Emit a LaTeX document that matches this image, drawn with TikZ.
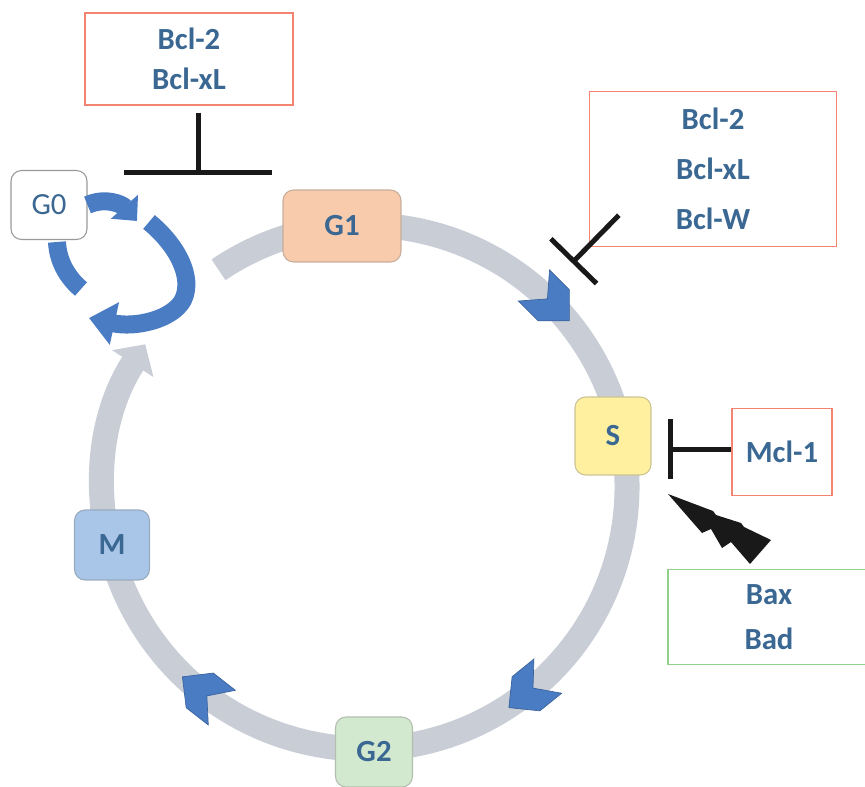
\documentclass[tikz,border=0pt]{standalone}
\usepackage{fontspec}
\setmainfont{Carlito}
\usepackage{xcolor}
\usetikzlibrary{arrows.meta}

\definecolor{ringgray}{HTML}{C8CDD6}
\definecolor{cycleblue}{HTML}{4A7CC4}
\definecolor{labelblue}{HTML}{3A6893}
\definecolor{boxred}{HTML}{F28471}
\definecolor{boxgreen}{HTML}{90D28A}
\definecolor{gonefill}{HTML}{F8CBAD}
\definecolor{sfill}{HTML}{FFF0A0}
\definecolor{gtwofill}{HTML}{D3E9CF}
\definecolor{mfill}{HTML}{A9C6E8}

\begin{document}
\begin{tikzpicture}[
    x=0.02cm, y=0.02cm,
    phase/.style={rectangle, rounded corners=6pt, draw=#1!60!gray, fill=#1, line width=0.6pt, text=labelblue, font=\fontsize{17.5}{20}\selectfont\bfseries},
    protbox/.style={rectangle, draw=#1, line width=0.8pt, align=center, text=labelblue},
    inhib/.style={line width=0.1cm, black!90},
    ring/.style={draw=ringgray, line width=0.5cm},
    cyc/.style={draw=cycleblue, line width=0.36cm},
    bolt/.style={fill=black!90},
    chev/.pic={\filldraw[fill=cycleblue, draw=cycleblue!80!black, line width=0.4pt] (-23,22) -- (5,22) -- (27,0) -- (5,-22) -- (-23,-22) -- (-4,0) -- cycle;}
]
    \useasboundingbox (0,0) rectangle (865,-787);

    % cell cycle ring
    \coordinate (ctr) at (365,-487);
    \draw[ring, -{Triangle[width=0.96cm, length=0.46cm]}] ([shift={(124:262)}]ctr) arc[start angle=124, end angle=-213, radius=262];
    \pic[rotate=-45] at ([shift={(45:262)}]ctr) {chev};
    \pic[rotate=-141] at ([shift={(-51:262)}]ctr) {chev};
    \pic[rotate=-218] at ([shift={(-128:262)}]ctr) {chev};

    % phases
    \node[phase=gonefill, minimum width=2.36cm, minimum height=1.44cm] (g1) at (342,-226) {G1};
    \node[phase=sfill, minimum width=1.52cm, minimum height=1.56cm] (s) at (613,-436) {S};
    \node[phase=gtwofill, minimum width=1.54cm, minimum height=1.4cm] (g2) at (374,-752) {G2};
    \node[phase=mfill, minimum width=1.5cm, minimum height=1.4cm] (m) at (112,-545) {M};
    \node[phase=white, draw=gray!80, minimum width=1.52cm, minimum height=1.38cm, font=\fontsize{17.5}{20}\selectfont] (g0) at (49,-205) {G0};

    % G0 loop
    \draw[cyc, -{Triangle[width=0.7cm, length=0.38cm]}] (g0.east) .. controls (105,-197) and (122,-204) .. (137,-221);
    \draw[cyc, -{Triangle[width=0.84cm, length=0.52cm]}] (149,-222) .. controls (177,-245) and (194,-277) .. (183,-300) .. controls (172,-320) and (135,-328) .. (89,-318);
    \draw[cyc] (57,-242) .. controls (58,-262) and (68,-278) .. (81,-289);

    % proteins
    \node[protbox=boxred, minimum width=4.16cm, minimum height=1.84cm, font=\fontsize{17.5}{23}\selectfont\bfseries] (bcltop) at (189,-59) {Bcl-2\\Bcl-xL};
    \node[protbox=boxred, minimum width=4.94cm, minimum height=3.1cm, font=\fontsize{17.5}{28.5}\selectfont\bfseries] (bclright) at (713,-169) {Bcl-2\\Bcl-xL\\Bcl-W};
    \node[protbox=boxred, minimum width=2cm, minimum height=1.74cm, font=\fontsize{17.5}{20}\selectfont\bfseries] (mcl) at (782,-452) {Mcl-1};
    \node[protbox=boxgreen, minimum width=4.04cm, minimum height=1.9cm, font=\fontsize{17.5}{26}\selectfont\bfseries] (baxbad) at (769,-617) {Bax\\Bad};

    % inhibition
    \coordinate (bar1) at (198,-175);
    \coordinate (bar2) at (572,-263);
    \coordinate (bar3) at (668,-449);
    \draw[inhib, shorten <=0.14cm, -{Bar[width=2.96cm]}] (bcltop.south -| bar1) -- (bar1);
    \draw[inhib, -{Bar[width=1.28cm]}] ([shift={(30,32)}]bclright.south west) -- (bar2);
    \draw[inhib, -{Bar[width=1.2cm]}] (mcl.west |- bar3) -- (bar3);

    % activation bolt
    \fill[bolt] (668,-494) -- (713,-511) -- (716,-515) -- (741,-523) -- (744,-527) -- (771,-540) -- (750,-564) -- (731,-542) -- (722,-548) -- (711,-529) -- (702,-533) -- cycle;
\end{tikzpicture}
\end{document}
